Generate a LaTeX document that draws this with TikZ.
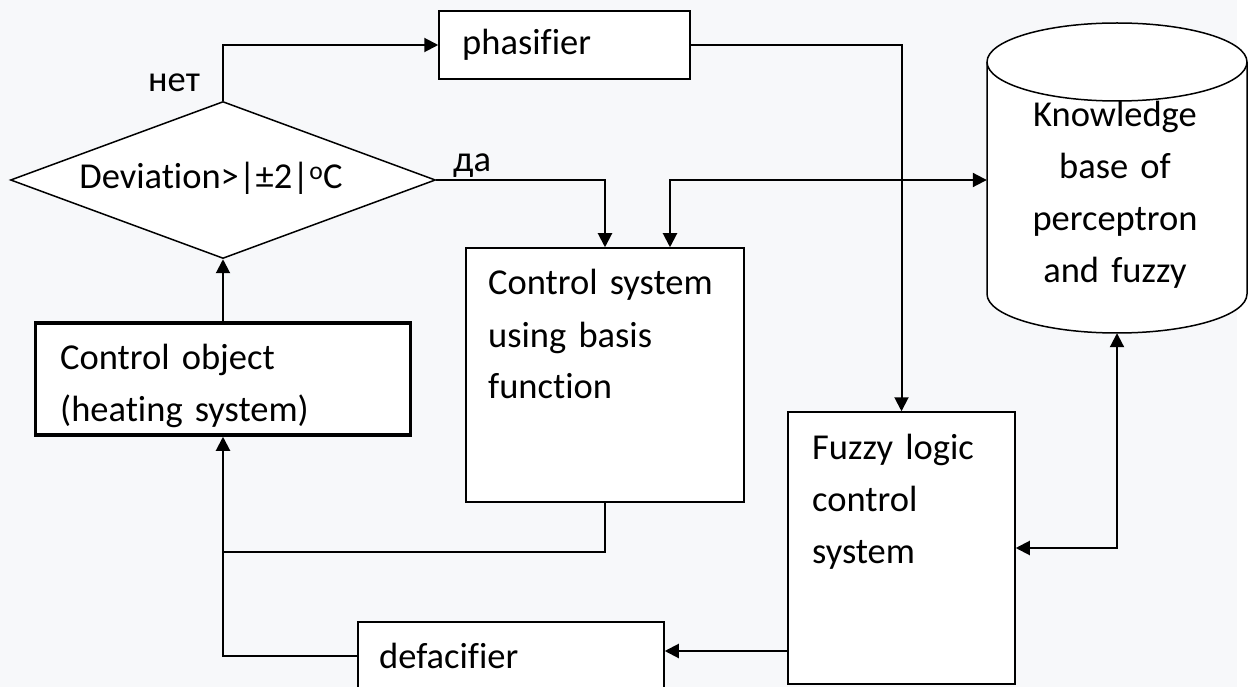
\documentclass[tikz,border=0pt]{standalone}
\usepackage{fontspec}
\setmainfont{Carlito}[Ligatures={NoCommon}]
\usepackage{xcolor}
\definecolor{canvas}{RGB}{247,248,250}
\usetikzlibrary{shapes.geometric,arrows.meta,positioning}

\begin{document}
\begin{tikzpicture}[x=1pt,y=-1pt,
  box/.style={rectangle,draw=black,fill=white,line width=1.5pt,inner sep=0pt},
  decision/.style={diamond,draw=black,fill=white,line width=1.5pt,inner sep=0pt,
                   aspect=2.7,minimum width=425pt,minimum height=157pt},
  txt/.style={inner sep=0pt,anchor=base west,text width=320pt,align=left,
              font=\fontsize{36.5pt}{52pt}\selectfont},
  lbl/.style={inner sep=0pt,anchor=base west,font=\fontsize{36.5pt}{52pt}\selectfont},
  arr/.style={-{Triangle[length=14pt,width=14pt]},line width=2pt},
  arrs/.style={{Triangle[length=14pt,width=14pt]}-{Triangle[length=14pt,width=14pt]},line width=2pt},
  conn/.style={line width=2pt}
]
  \useasboundingbox (0,0) rectangle (1254,687);
  \fill[white] (0,0) rectangle (1254,687);
  \fill[canvas] (0,0) rectangle (1237,687);

  % knowledge base cylinder
  \filldraw[fill=white,line width=1.5pt] (987,62) -- (987,294)
    arc[start angle=180,end angle=0,x radius=130,y radius=39] -- (1247,62)
    arc[start angle=0,end angle=-180,x radius=130,y radius=39] -- cycle;
  \draw[line width=1.5pt] (987,62) arc[start angle=180,end angle=0,x radius=130,y radius=39];
  \node[minimum width=260pt,minimum height=310pt,inner sep=0pt] (kb) at (1117,178) {};
  \node[txt,anchor=base,text width=260pt,align=center] at (1115,127)
    {Knowledge\\base of\\perceptron\\and fuzzy};

  \node[box,minimum width=251pt,minimum height=68pt] (phas) at (564.5,45) {};
  \node[txt] at (462,55) {phasifier};

  \node[decision] (dev) at (223,180) {};
  \node[lbl,anchor=base] at (211,189) {Deviation>|±2|\textsuperscript{o}C};
  \node[lbl] at (148,92) {нет};
  \node[lbl] at (453,172) {да};

  \node[box,line width=3.5pt,minimum width=375pt,minimum height=112pt] (cobj) at (223,379) {};
  \node[txt] at (60,370) {Control object\\(heating system)};

  \node[box,minimum width=278pt,minimum height=254pt] (csys) at (605,375) {};
  \node[txt] at (488,295) {Control system\\using basis\\function};

  \node[box,minimum width=227pt,minimum height=272pt] (fuzzy) at (901.5,548) {};
  \node[txt] at (812,459) {Fuzzy logic\\control\\system};

  \node[box,minimum width=306pt,minimum height=110pt] (defac) at (511,677) {};
  \node[txt] at (379,668) {defacifier};

  \coordinate (fd) at ([yshift=-103pt]fuzzy.west);
  \coordinate (dw) at ([yshift=21pt]defac.west);
  \coordinate (join) at ([yshift=-115pt]cobj.south);

  \draw[arr] (dev.north) |- (phas.west);
  \draw[arr] (dev.east) -| (csys.north);
  \draw[arrs] ([xshift=65pt]csys.north) |- (kb.west |- dev.east);
  \draw[arr] (phas.east) -| (fuzzy.north);
  \draw[arrs] (fuzzy.east) -| (kb.south);
  \draw[arr] (fd) -- (fd -| defac.east);
  \draw[arr] (dw) -| (cobj.south);
  \draw[conn] (csys.south) |- (join);
  \draw[arr] (cobj.north) -- (dev.south);
\end{tikzpicture}
\end{document}
